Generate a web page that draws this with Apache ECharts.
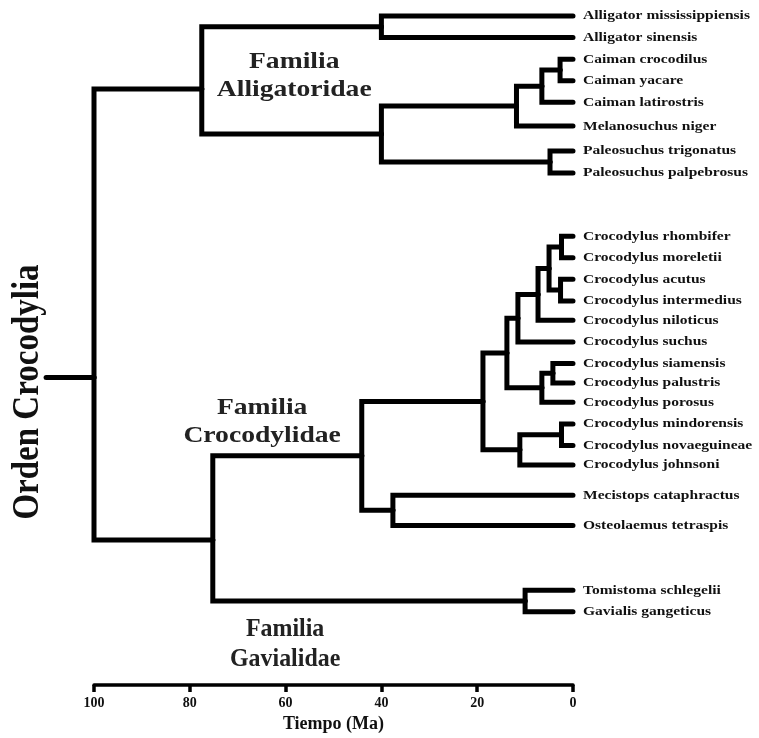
<!DOCTYPE html>
<html>
<head>
<meta charset="utf-8">
<script src="https://cdn.jsdelivr.net/npm/echarts@6/dist/echarts.min.js"></script>
<style>
  html, body { margin: 0; padding: 0; background: #ffffff; }
  #chart { width: 759px; height: 738px; }
</style>
</head>
<body>
<div id="chart"></div>
<script>
// ---- Crocodylia time tree -------------------------------------------------
// Tip names, in top-to-bottom order
const taxa = [
  'Alligator mississippiensis', 'Alligator sinensis',
  'Caiman crocodilus', 'Caiman yacare', 'Caiman latirostris',
  'Melanosuchus niger', 'Paleosuchus trigonatus', 'Paleosuchus palpebrosus',
  'Crocodylus rhombifer', 'Crocodylus moreletii', 'Crocodylus acutus',
  'Crocodylus intermedius', 'Crocodylus niloticus', 'Crocodylus suchus',
  'Crocodylus siamensis', 'Crocodylus palustris', 'Crocodylus porosus',
  'Crocodylus mindorensis', 'Crocodylus novaeguineae', 'Crocodylus johnsoni',
  'Mecistops cataphractus', 'Osteolaemus tetraspis',
  'Tomistoma schlegelii', 'Gavialis gangeticus'
];
// Row of each tip on the vertical axis
const tipRows = [
  0, 1, 2, 3, 4, 5.1, 6.25, 7.27,
  10.2, 11.2, 12.2, 13.2, 14.1, 15.1, 16.1, 17.0, 17.9, 18.9, 19.9, 20.8,
  22.2, 23.6, 26.6, 27.6
];
// Divergence age of every internal node (Ma); children listed below
const nodeAges = [
  40, 2.7, 6.5, 11.8, 4.8, 40, 77.5,
  2.4, 2.6, 5.0, 7.3, 11.5, 4.2, 6.5, 13.8, 2.4, 11.1, 18.8,
  37.6, 44.1, 10.0, 75.2, 100
];
// Children of each node: a number is a tip, 'n#' is another internal node
const nodeKids = [
  [0, 1], [2, 3], ['n1', 4], ['n2', 5], [6, 7], ['n3', 'n4'], ['n0', 'n5'],
  [8, 9], [10, 11], ['n7', 'n8'], ['n9', 12], ['n10', 13], [14, 15],
  ['n12', 16], ['n11', 'n13'], [17, 18], ['n15', 19], ['n14', 'n16'],
  [20, 21], ['n17', 'n18'], [22, 23], ['n19', 'n20'], ['n6', 'n21']
];
const rootStemAge = 110;
const timeTicks = [100, 80, 60, 40, 20, 0];
const familyNames = ['Familia\nAlligatoridae', 'Familia\nCrocodylidae', 'Familia\nGavialidae'];
const orderName = 'Orden Crocodylia';
const axisTitle = 'Tiempo (Ma)';

// ---- layout ---------------------------------------------------------------
// Where the parent branch meets a node's vertical bar (0.5 = middle)
const nodeBias = { 6: 0.58, 21: 0.58, 22: 0.64 };
// Family captions, placed in (age, row) coordinates, with their own sizing
const familyAnchors = [[58.2, 2.78], [64.9, 18.8], [60.1, 29.1]];
const familyFontSize = [24, 24, 26];
const familyStretch = [1.15, 1.15, 0.92];

const SERIF = '"Liberation Serif", "Times New Roman", serif';
const STRETCH = 1.15;

const nodeRows = [];
const rowOf = ref => typeof ref === 'number' ? tipRows[ref] : nodeRows[+ref.slice(1)];
const ageOf = ref => typeof ref === 'number' ? 0 : nodeAges[+ref.slice(1)];
nodeKids.forEach((kids, i) => {
  const a = rowOf(kids[0]), b = rowOf(kids[1]);
  const w = nodeBias[i] !== undefined ? nodeBias[i] : 0.5;
  nodeRows[i] = a + (b - a) * w;
});

// One elbow per parent -> child edge: [parentAge, parentRow, childAge, childRow]
const edges = [];
nodeKids.forEach((kids, i) => {
  kids.forEach(k => edges.push([nodeAges[i], nodeRows[i], ageOf(k), rowOf(k)]));
});
const rootIdx = nodeAges.length - 1;
edges.push([rootStemAge, nodeRows[rootIdx], nodeAges[rootIdx], nodeRows[rootIdx]]);

const chart = echarts.init(document.getElementById('chart'), null, { renderer: 'canvas' });

chart.setOption({
  backgroundColor: '#ffffff',
  animation: false,
  grid: { left: 94, right: 186, top: 16, bottom: 52.4, containLabel: false },
  xAxis: {
    type: 'value', position: 'bottom', min: 0, max: 100, interval: 20, inverse: true,
    axisLine: { show: true, onZero: false, lineStyle: { color: '#000', width: 3.5 } },
    axisTick: { show: true, inside: false, length: 7, lineStyle: { color: '#000', width: 3.5 } },
    axisLabel: {
      margin: 11, color: '#111', fontFamily: SERIF, fontWeight: 'bold', fontSize: 14,
      customValues: timeTicks
    },
    splitLine: { show: false },
    name: axisTitle, nameLocation: 'middle', nameGap: 25,
    nameTextStyle: { color: '#111', fontFamily: SERIF, fontWeight: 'bold', fontSize: 18, verticalAlign: 'top' }
  },
  yAxis: { type: 'value', min: 0, max: 31, inverse: true, show: false },
  graphic: [{
    type: 'text', x: 28, y: 392, rotation: Math.PI / 2, scaleY: STRETCH,
    style: {
      text: orderName, fill: '#111', align: 'center', verticalAlign: 'middle',
      fontFamily: SERIF, fontWeight: 'bold', fontSize: 33
    }
  }],
  series: [
    {
      // branches
      type: 'custom', clip: false, silent: true,
      data: edges,
      renderItem: (params, api) => {
        const p0 = api.coord([api.value(0), api.value(1)]);
        const p1 = api.coord([api.value(0), api.value(3)]);
        const p2 = api.coord([api.value(2), api.value(3)]);
        return {
          type: 'polyline',
          shape: { points: [p0, p1, p2] },
          style: { stroke: '#000', lineWidth: 5, fill: null, lineCap: 'round', lineJoin: 'miter' }
        };
      }
    },
    {
      // tip names
      type: 'custom', clip: false, silent: true,
      data: taxa.map((n, i) => [0, tipRows[i]]),
      renderItem: (params, api) => {
        const p = api.coord([api.value(0), api.value(1)]);
        return {
          type: 'text', x: p[0] + 10, y: p[1], scaleX: STRETCH,
          style: {
            text: taxa[params.dataIndex], fill: '#111', align: 'left', verticalAlign: 'middle',
            fontFamily: SERIF, fontWeight: 'bold', fontSize: 13.5
          }
        };
      }
    },
    {
      // family captions
      type: 'custom', clip: false, silent: true,
      data: familyAnchors,
      renderItem: (params, api) => {
        const i = params.dataIndex;
        const p = api.coord([api.value(0), api.value(1)]);
        return {
          type: 'text', x: p[0], y: p[1], scaleX: familyStretch[i],
          style: {
            text: familyNames[i], fill: '#222', align: 'center', verticalAlign: 'middle',
            fontFamily: SERIF, fontWeight: 'bold', fontSize: familyFontSize[i],
            lineHeight: familyFontSize[i] + 4
          }
        };
      }
    }
  ]
});
</script>
</body>
</html>
